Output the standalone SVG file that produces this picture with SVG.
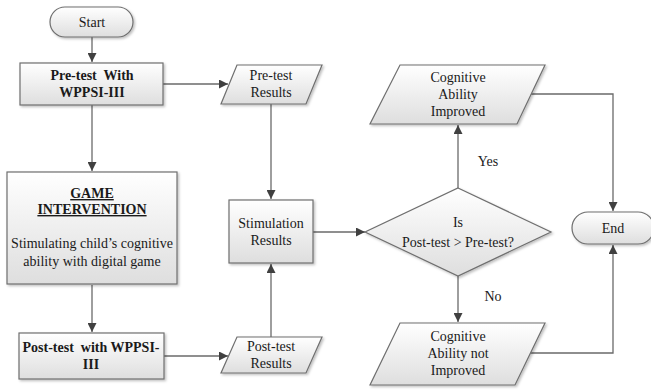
<svg xmlns="http://www.w3.org/2000/svg" width="651" height="390" viewBox="0 0 651 390" font-family="'Liberation Serif', 'DejaVu Serif', serif">
<defs>
<linearGradient id="g" x1="0" y1="0" x2="0" y2="1">
<stop offset="0" stop-color="#ffffff"/>
<stop offset="1" stop-color="#dedede"/>
</linearGradient>
<filter id="sh" x="-10%" y="-10%" width="125%" height="130%">
<feDropShadow dx="1.5" dy="1.5" stdDeviation="1" flood-color="#000" flood-opacity="0.25"/>
</filter>
<marker id="ah" viewBox="0 0 10 10" refX="10" refY="5" markerWidth="9" markerHeight="9" markerUnits="userSpaceOnUse" orient="auto">
<path d="M0,0 L10,5 L0,10 z" fill="#404040"/>
</marker>
</defs>
<style>
.s{fill:url(#g);stroke:#6f6f6f;stroke-width:1.2;filter:url(#sh)}
.t{font-family:'Liberation Serif','DejaVu Serif',serif;font-size:14px;fill:#1a1a1a;text-anchor:middle;white-space:pre}
.b{font-weight:bold}
.c{fill:none;stroke:#6a6a6a;stroke-width:1.3}
</style>
<rect width="651" height="390" fill="#fff"/>
<g id="connectors">
<path class="c" d="M92,37 V62" marker-end="url(#ah)"/>
<path class="c" d="M163,84 H228" marker-end="url(#ah)"/>
<path class="c" d="M92,105 V171" marker-end="url(#ah)"/>
<path class="c" d="M271,104 V199" marker-end="url(#ah)"/>
<path class="c" d="M92,285 V332" marker-end="url(#ah)"/>
<path class="c" d="M164,356 H228" marker-end="url(#ah)"/>
<path class="c" d="M271,337 V264" marker-end="url(#ah)"/>
<path class="c" d="M313,232 H365" marker-end="url(#ah)"/>
<path class="c" d="M458,188 V125" marker-end="url(#ah)"/>
<path class="c" d="M458,276 V322" marker-end="url(#ah)"/>
<path class="c" d="M530,94 H613 V211" marker-end="url(#ah)"/>
<path class="c" d="M530,353 H613 V245" marker-end="url(#ah)"/>
<text class="t" x="488" y="166">Yes</text>
<text class="t" x="493" y="301">No</text>
</g>
<g id="start">
<rect class="s" x="50" y="7" width="83" height="30" rx="15"/>
<text class="t" x="92" y="27">Start</text>
</g>
<g id="pretest">
<rect class="s" x="20" y="63" width="143" height="42"/>
<text class="t b" x="92" y="80" xml:space="preserve">Pre-test  With</text>
<text class="t b" x="92" y="97">WPPSI-III</text>
</g>
<g id="pretest-results">
<polygon class="s" points="237,65 322,65 306,104 221,104"/>
<text class="t" x="271" y="80">Pre-test</text>
<text class="t" x="271" y="97">Results</text>
</g>
<g id="game">
<rect class="s" x="7" y="172" width="170" height="112"/>
<text class="t b" x="92" y="198" text-decoration="underline">GAME</text>
<text class="t b" x="92" y="214" text-decoration="underline">INTERVENTION</text>
<text class="t" x="92" y="248">Stimulating child’s cognitive</text>
<text class="t" x="92" y="266">ability with digital game</text>
</g>
<g id="posttest">
<rect class="s" x="19" y="333" width="145" height="46"/>
<text class="t b" x="91" y="352" xml:space="preserve">Post-test  with WPPSI-</text>
<text class="t b" x="91" y="369">III</text>
</g>
<g id="posttest-results">
<polygon class="s" points="237,337 322,337 306,373 221,373"/>
<text class="t" x="271" y="351">Post-test</text>
<text class="t" x="271" y="368">Results</text>
</g>
<g id="stimulation">
<rect class="s" x="229" y="200" width="84" height="63"/>
<text class="t" x="271" y="228">Stimulation</text>
<text class="t" x="271" y="245">Results</text>
</g>
<g id="decision">
<polygon class="s" points="458,188 551,232 458,276 365,232"/>
<text class="t" x="458" y="227">Is</text>
<text class="t" x="458" y="247">Post-test &gt; Pre-test?</text>
</g>
<g id="improved">
<polygon class="s" points="400,65 545,65 517,124 370,124"/>
<text class="t" x="458" y="82">Cognitive</text>
<text class="t" x="458" y="99">Ability</text>
<text class="t" x="458" y="116">Improved</text>
</g>
<g id="not-improved">
<polygon class="s" points="400,323 545,323 515,385 370,385"/>
<text class="t" x="458" y="341">Cognitive</text>
<text class="t" x="458" y="358">Ability not</text>
<text class="t" x="458" y="375">Improved</text>
</g>
<g id="end">
<rect class="s" x="572" y="212" width="82" height="32" rx="16"/>
<text class="t" x="613" y="233">End</text>
</g>
</svg>
